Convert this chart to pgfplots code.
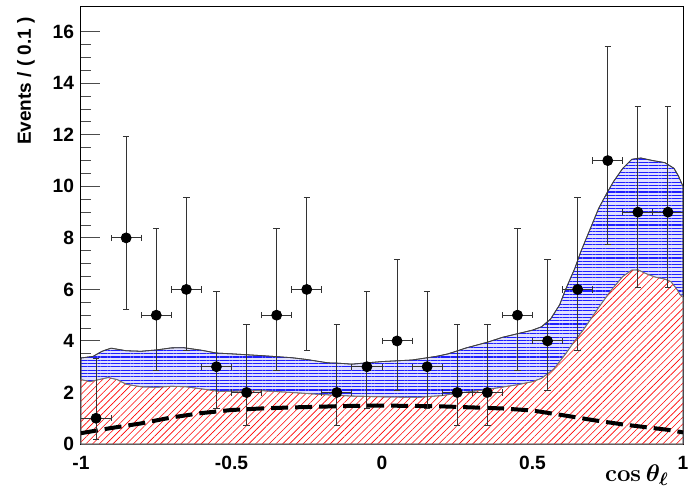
\documentclass[border=0pt]{standalone}
\usepackage[no-math]{fontspec}
\setmainfont{Liberation Sans}
\usepackage{pgfplots}
\pgfplotsset{compat=1.18}
\usetikzlibrary{patterns.meta}
\definecolor{hblue}{RGB}{30,30,255}
\DeclareRobustCommand\xlab{{\fontsize{13}{15}\selectfont\boldmath$\cos\theta_{\ell}$}}
\begin{document}
\begin{tikzpicture}
\useasboundingbox (-40.5pt,-22.5pt) rectangle (304.5pt,222pt);
\begin{axis}[
  at={(0,0)}, anchor=south west,
  scale only axis, width=301pt, height=219pt,
  xmin=-1, xmax=1, ymin=0, ymax=17,
  axis line style={line width=0.5pt},
  xtick={-1,-0.5,0,0.5,1}, xticklabels={-1,-0.5,0,0.5,1},
  ytick={0,2,...,16},
  minor x tick num=4, minor y tick num=3,
  xtick pos=bottom, ytick pos=left,
  tick align=inside,
  major tick length=9.5pt, minor tick length=5pt,
  xtick style={/pgfplots/major tick length=6.5pt,/pgfplots/minor tick length=3.3pt, black!70, line width=0.5pt},
  ytick style={black!70, line width=0.5pt},
  /pgf/number format/assume math mode=true,
  tick label style={font=\fontsize{9.6}{11}\selectfont\bfseries},
  xticklabel style={yshift=-2.5pt},
  ylabel={\fontsize{9.5}{11}\selectfont\bfseries Events / ( 0.1 )},
  ylabel style={at={([xshift=-19.5pt,yshift=-2pt]rel axis cs:0,1)}, anchor=south east},
  xlabel={\xlab},
  xlabel style={at={([xshift=-3.5pt,yshift=-18.9pt]rel axis cs:1,0)}, anchor=base east},
  clip=true,
]
% total (blue)
\addplot[draw=black!75, line width=0.4pt, preaction={fill=blue!12}, pattern={Lines[angle=0,distance=1.65pt,line width=0.55pt]}, pattern color=hblue] coordinates {
(-1,3.34) (-0.96,3.4) (-0.93,3.6) (-0.9,3.72) (-0.85,3.62) (-0.8,3.6) (-0.75,3.65) (-0.7,3.73) (-0.66,3.74) (-0.6,3.64) (-0.55,3.53) (-0.5,3.5) (-0.4,3.43) (-0.3,3.35) (-0.25,3.28) (-0.18,3.15) (-0.15,3.14) (-0.1,3.1) (0,3.2) (0.1,3.26) (0.18,3.4) (0.22,3.5) (0.28,3.73) (0.35,3.95) (0.4,4.14) (0.45,4.28) (0.5,4.42) (0.53,4.55) (0.56,4.85) (0.59,5.4) (0.61,6.0) (0.64,6.8) (0.66,7.45) (0.69,8.3) (0.72,9.15) (0.75,9.8) (0.77,10.2) (0.8,10.7) (0.83,11.05) (0.86,11.1) (0.9,11.0) (0.94,10.92) (0.97,10.7) (0.985,10.4) (1,10.0)
} \closedcycle;
% red component
\addplot[draw=black!55, line width=0.4pt, preaction={fill=white}, pattern={Lines[angle=45,distance=2.4pt,line width=0.3pt]}, pattern color=red] coordinates {
(-1,2.5) (-0.97,2.42) (-0.94,2.5) (-0.91,2.58) (-0.88,2.5) (-0.85,2.32) (-0.8,2.22) (-0.75,2.2) (-0.7,2.24) (-0.65,2.22) (-0.6,2.14) (-0.54,2.04) (-0.45,2.06) (-0.4,2.07) (-0.3,2.0) (-0.2,1.92) (-0.1,1.86) (0,1.83) (0.12,1.81) (0.2,1.88) (0.25,1.97) (0.34,2.1) (0.45,2.3) (0.5,2.42) (0.53,2.55) (0.57,2.9) (0.61,3.5) (0.64,4.0) (0.67,4.45) (0.72,5.3) (0.76,5.95) (0.8,6.5) (0.83,6.75) (0.85,6.76) (0.88,6.6) (0.91,6.47) (0.94,6.4) (0.96,6.3) (0.98,6.0) (0.99,5.8) (1,5.7)
} \closedcycle;
% dashed component
\addplot[black, line width=2pt, dash pattern=on 8.5pt off 3.5pt] coordinates {
(-1,0.42) (-0.95,0.52) (-0.9,0.62) (-0.8,0.8) (-0.7,1.03) (-0.6,1.2) (-0.5,1.32) (-0.4,1.38) (-0.3,1.42) (-0.2,1.45) (-0.1,1.48) (0,1.49) (0.1,1.48) (0.2,1.46) (0.3,1.42) (0.4,1.38) (0.5,1.3) (0.6,1.12) (0.7,0.93) (0.8,0.76) (0.9,0.62) (0.95,0.55) (1,0.45)
};
% data
\addplot[only marks, mark=*, mark size=2.5pt, black, mark options={fill=black},
  error bars/.cd, x dir=both, x explicit, y dir=both, y explicit,
  error bar style={line width=0.5pt, black!80},
  error mark options={rotate=90, mark size=1.6pt, line width=0.5pt, black!80}]
coordinates {
(-0.95,1) += (0.05,2.30) -= (0.05,0.83)
(-0.85,8) += (0.05,3.95) -= (0.05,2.77)
(-0.75,5) += (0.05,3.38) -= (0.05,2.16)
(-0.65,6) += (0.05,3.58) -= (0.05,2.38)
(-0.55,3) += (0.05,2.92) -= (0.05,1.63)
(-0.45,2) += (0.05,2.64) -= (0.05,1.29)
(-0.35,5) += (0.05,3.38) -= (0.05,2.16)
(-0.25,6) += (0.05,3.58) -= (0.05,2.38)
(-0.15,2) += (0.05,2.64) -= (0.05,1.29)
(-0.05,3) += (0.05,2.92) -= (0.05,1.63)
(0.05,4) += (0.05,3.16) -= (0.05,1.91)
(0.15,3) += (0.05,2.92) -= (0.05,1.63)
(0.25,2) += (0.05,2.64) -= (0.05,1.29)
(0.35,2) += (0.05,2.64) -= (0.05,1.29)
(0.45,5) += (0.05,3.38) -= (0.05,2.16)
(0.55,4) += (0.05,3.16) -= (0.05,1.91)
(0.65,6) += (0.05,3.58) -= (0.05,2.38)
(0.75,11) += (0.05,4.41) -= (0.05,3.26)
(0.85,9) += (0.05,4.11) -= (0.05,2.94)
(0.95,9) += (0.05,4.11) -= (0.05,2.94)
};
\end{axis}
\end{tikzpicture}
\end{document}
